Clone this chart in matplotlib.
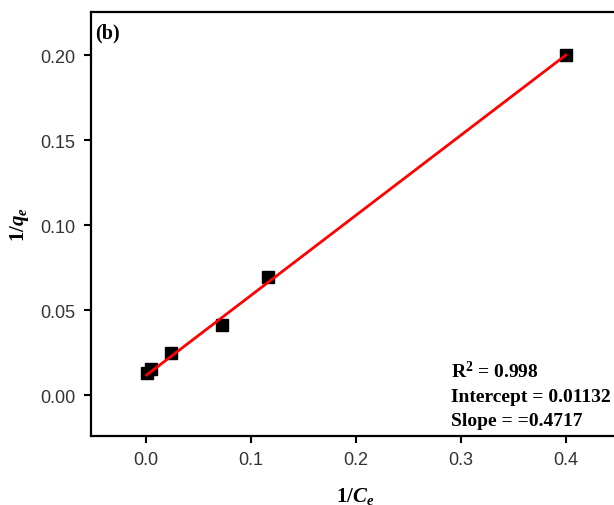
import matplotlib.pyplot as plt
import numpy as np

# datos
inv_ce = [0.001, 0.005, 0.024, 0.0725, 0.116, 0.400]
inv_qe = [0.0132, 0.0153, 0.0247, 0.0410, 0.0697, 0.2000]
slope = 0.4717
intercept = 0.01132
r2 = 0.998

plt.rcParams['mathtext.fontset'] = 'custom'
plt.rcParams['mathtext.rm'] = 'Liberation Serif:bold'
plt.rcParams['mathtext.it'] = 'Liberation Serif:italic:bold'
plt.rcParams['mathtext.bf'] = 'Liberation Serif:bold'

fig = plt.figure(figsize=(6.14, 5.06), dpi=100)
ax = fig.add_axes([91/614, 1 - 437/506, (618.5 - 91)/614, (437 - 13)/506])

ax.plot(inv_ce, inv_qe, 's', color='black', markersize=9, zorder=2)
xf = np.array([min(inv_ce), max(inv_ce)])
ax.plot(xf, intercept + slope*xf, color='red', linewidth=2, zorder=3)

ax.set_xlim(-0.052, 0.45)
ax.set_ylim(-0.0241, 0.2253)
ax.set_xticks([0.0, 0.1, 0.2, 0.3, 0.4])
ax.set_yticks([0.00, 0.05, 0.10, 0.15, 0.20])
ax.set_xticklabels(['0.0', '0.1', '0.2', '0.3', '0.4'])
ax.set_yticklabels(['0.00', '0.05', '0.10', '0.15', '0.20'])
for lbl in ax.get_xticklabels() + ax.get_yticklabels():
    lbl.set_family('Liberation Sans')
    lbl.set_fontsize(13)
    lbl.set_color('#333333')
ax.tick_params(direction='out', length=5, width=1.5, top=False, right=False, pad=6)
for s in ax.spines.values():
    s.set_linewidth(1.6)

ax.set_xlabel('$1/C_e$', fontsize=15, labelpad=12)
ax.set_ylabel('$1/q_e$', fontsize=15, labelpad=7)

ax.text(0.008, 0.975, '(b)', transform=ax.transAxes, ha='left', va='top',
        family='Liberation Serif', fontweight='bold', fontsize=14.5)

ax.text(0.291, 0.0147, r'$\mathrm{R}^2$ = ' + str(r2), family='Liberation Serif',
        fontweight='bold', fontsize=14, va='center')
ax.text(0.291, -0.0006, 'Intercept = ' + str(intercept), family='Liberation Serif',
        fontweight='bold', fontsize=14, va='center')
ax.text(0.291, -0.0147, 'Slope = =' + str(slope), family='Liberation Serif',
        fontweight='bold', fontsize=14, va='center')

fig.savefig('out.png', dpi=100)
